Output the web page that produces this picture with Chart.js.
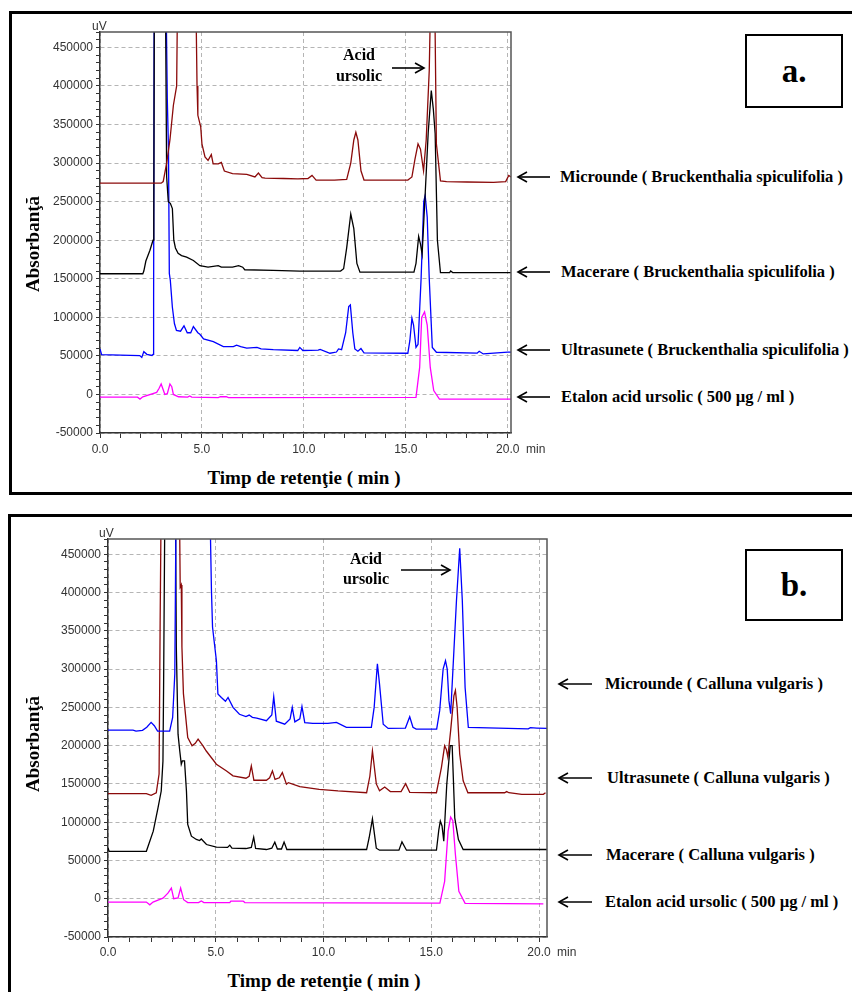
<!DOCTYPE html>
<html lang="ro">
<head>
<meta charset="UTF-8">
<title>Cromatograme HPLC - acid ursolic</title>
<script src="https://cdn.jsdelivr.net/npm/chart.js"></script>
<style>
  body {
    margin: 0;
    width: 852px;
    height: 992px;
    overflow: hidden;
    position: relative;
    background: #fff;
    font-family: 'Liberation Serif', 'Times New Roman', serif;
  }
  .panel { position: absolute; border: 3px solid #000; box-sizing: border-box; }
  #panelA { left: 9px; top: 11px; width: 850px; height: 484px; border-right: none; }
  #panelB { left: 8px; top: 514px; width: 850px; height: 490px; border-right: none; border-bottom: none; }
  canvas { position: absolute; }
  .t { position: absolute; font-weight: bold; color: #000; white-space: nowrap; line-height: 1; }
  .mid { transform: translate(-50%, -50%); }
  .lft { transform: translateY(-50%); }
  .ytitle { font-size: 19px; transform: translate(-50%, -50%) rotate(-90deg); }
  .xtitle { font-size: 19px; }
  .lab { font-size: 16.5px; }
  .note { font-size: 16px; text-align: center; }
  .tag {
    position: absolute; border: 2px solid #000; box-sizing: border-box;
    display: flex; align-items: center; justify-content: center;
    font-weight: bold; font-size: 33px; line-height: 1;
  }
  .unit { position: absolute; font-family: 'Liberation Sans', Arial, sans-serif; font-size: 12px; color: #333; line-height: 1; transform: translateY(-50%); }
  svg { position: absolute; left: 0; top: 0; pointer-events: none; }
</style>
</head>
<body>
  <div class="panel" id="panelA"></div>
  <div class="panel" id="panelB"></div>

  <canvas id="chartA" width="510" height="445" style="left:20px; top:20px;"></canvas>
  <canvas id="chartB" width="545" height="445" style="left:20px; top:520px;"></canvas>

  <!-- panel a -->
  <div class="unit" style="left:92px; top:26px;">uV</div>
  <div class="unit" style="left:526px; top:449px;">min</div>
  <div class="t ytitle" style="left:32px; top:244px;">Absorbanţă</div>
  <div class="t xtitle mid" style="left:304px; top:477px;">Timp de retenţie ( min )</div>
  <div class="t note mid" style="left:359px; top:55px;">Acid</div>
  <div class="t note mid" style="left:359px; top:76px;">ursolic</div>
  <div class="tag" style="left:745px; top:34px; width:98px; height:74px;">a.</div>
  <div class="t lab lft" style="left:560px; top:177px;">Microunde ( Bruckenthalia spiculifolia )</div>
  <div class="t lab lft" style="left:561px; top:272px;">Macerare ( Bruckenthalia spiculifolia )</div>
  <div class="t lab lft" style="left:561px; top:350px;">Ultrasunete ( Bruckenthalia spiculifolia )</div>
  <div class="t lab lft" style="left:561px; top:397px;">Etalon acid ursolic ( 500 µg / ml )</div>

  <!-- panel b -->
  <div class="unit" style="left:99px; top:533px;">uV</div>
  <div class="unit" style="left:557px; top:952px;">min</div>
  <div class="t ytitle" style="left:32px; top:744px;">Absorbanţă</div>
  <div class="t xtitle mid" style="left:324px; top:980px;">Timp de retenţie ( min )</div>
  <div class="t note mid" style="left:366px; top:559px;">Acid</div>
  <div class="t note mid" style="left:366px; top:579px;">ursolic</div>
  <div class="tag" style="left:745px; top:549px; width:98px; height:72px;">b.</div>
  <div class="t lab lft" style="left:605px; top:684px;">Microunde ( Calluna vulgaris )</div>
  <div class="t lab lft" style="left:607px; top:778px;">Ultrasunete ( Calluna vulgaris )</div>
  <div class="t lab lft" style="left:606px; top:855px;">Macerare ( Calluna vulgaris )</div>
  <div class="t lab lft" style="left:605px; top:902px;">Etalon acid ursolic ( 500 µg / ml )</div>

  <svg width="852" height="992" id="arrows"></svg>

<script>
// retention time (min), signal (uV) pairs

// a. Bruckenthalia spiculifolia
const aMicrounde = [[0,274000],[3.0,274000],[3.1,276000],[3.27,300000],[3.43,330000],[3.6,375000],[3.76,400000],[3.82,560000],[4.68,560000],[4.76,400000],[4.8,362000],[4.94,347000],[5.0,325000],[5.15,308000],[5.3,303600],[5.46,311000],[5.55,299000],[5.8,299000],[5.95,301000],[6.1,289700],[6.5,286300],[7.2,285500],[7.6,282000],[7.77,287000],[7.95,281000],[8.1,280600],[9.0,280000],[9.7,279500],[10.2,280000],[10.4,284000],[10.6,278000],[11.5,278000],[12.1,279000],[12.3,300000],[12.45,330000],[12.55,340000],[12.65,330000],[12.8,290000],[12.95,278000],[15.1,278000],[15.3,282000],[15.45,305000],[15.6,325000],[15.72,318000],[15.87,290000],[16.0,330000],[16.15,420000],[16.25,560000],[16.4,560000],[16.5,325000],[16.7,277000],[17.0,276000],[18.0,275500],[19.3,275000],[19.9,276000],[20.05,284000],[20.16,282000]];
const aMacerare = [[0,156500],[2.1,156500],[2.15,160000],[2.25,173000],[2.45,187000],[2.6,200000],[2.64,230000],[2.67,560000],[3.2,560000],[3.27,282000],[3.35,250000],[3.45,247800],[3.55,241000],[3.62,200000],[3.7,190000],[3.83,183000],[4.0,180000],[4.25,178000],[4.58,173700],[4.9,167000],[5.3,165000],[5.8,167000],[5.95,165000],[6.5,165000],[6.8,167000],[7.0,165000],[7.1,161700],[8.5,160800],[9.8,160000],[11.8,160000],[11.95,163000],[12.1,190000],[12.3,234000],[12.45,215000],[12.6,170000],[12.75,158500],[15.4,158500],[15.5,170000],[15.63,205000],[15.72,195000],[15.8,182000],[15.95,260000],[16.1,340000],[16.25,394000],[16.35,370000],[16.44,338000],[16.55,200000],[16.7,158000],[17.15,158000],[17.2,160000],[17.3,158000],[20.16,158000]];
const aUltrasunete = [[0,59000],[0.08,51500],[1.95,50400],[2.05,48000],[2.15,55500],[2.3,52000],[2.55,50500],[2.6,52000],[2.63,126000],[2.66,560000],[3.22,560000],[3.3,384000],[3.36,316000],[3.4,157000],[3.45,147800],[3.55,113000],[3.65,92000],[3.75,83000],[3.95,82000],[4.12,89000],[4.28,80000],[4.45,80000],[4.58,88000],[4.8,80000],[4.9,78000],[5.08,72000],[5.56,68500],[6.05,62000],[6.54,62000],[6.7,64000],[6.9,62000],[7.2,60000],[7.7,61000],[7.9,59000],[8.5,58000],[9.7,57000],[9.8,61000],[9.95,57000],[10.7,57500],[10.8,58500],[11.28,53400],[11.6,55000],[11.7,59000],[11.85,58000],[12.05,80000],[12.2,114000],[12.28,116000],[12.4,80000],[12.5,59000],[12.65,56000],[12.8,59500],[12.95,54000],[15.1,53400],[15.2,70000],[15.3,98800],[15.38,90000],[15.5,61000],[15.6,65000],[15.75,150000],[15.88,250000],[15.95,258000],[16.05,230000],[16.15,150000],[16.3,61000],[16.5,54700],[18.5,53500],[18.6,56000],[18.8,52500],[20.0,55000],[20.16,55000]];
const aEtalon = [[0,-3500],[1.84,-3500],[1.96,-6000],[2.1,-3000],[2.78,2700],[2.9,8000],[3.0,13600],[3.1,6000],[3.18,0],[3.3,1000],[3.43,13600],[3.52,10000],[3.6,0],[3.85,-3000],[4.3,-3500],[4.4,-2000],[4.5,-3500],[5.8,-4000],[5.9,-3000],[6.2,-3000],[6.3,-4000],[15.5,-3700],[15.68,35000],[15.78,100000],[15.92,107000],[16.05,90000],[16.2,35000],[16.37,5000],[16.65,-6000],[20.16,-6000]];

// b. Calluna vulgaris
const bMicrounde = [[0,220400],[1.16,220400],[1.3,219000],[1.6,220000],[1.8,224000],[2.0,230400],[2.15,226000],[2.3,219000],[2.86,219000],[3.0,237000],[3.1,294000],[3.17,560000],[4.7,560000],[4.75,480000],[4.8,403000],[4.85,355000],[5.03,311000],[5.1,267600],[5.26,263000],[5.45,258000],[5.57,263000],[5.8,250000],[6.1,241000],[6.4,238000],[6.55,240000],[6.7,237000],[6.9,236000],[7.35,232600],[7.6,240000],[7.69,264000],[7.81,232000],[8.2,228000],[8.45,235000],[8.55,250000],[8.67,231000],[8.9,235000],[9.0,251000],[9.13,230000],[9.5,229000],[10.2,229000],[10.6,230500],[11.06,224000],[12.22,224000],[12.35,250000],[12.5,307000],[12.6,280000],[12.77,228000],[13.0,222500],[13.8,223000],[14.0,237800],[14.15,224000],[14.3,221700],[15.25,221700],[15.39,245700],[15.55,300000],[15.66,311000],[15.74,300000],[15.82,258800],[15.9,241700],[16.05,324000],[16.17,390000],[16.32,458000],[16.44,390000],[16.57,276000],[16.72,223800],[19.5,222000],[19.6,223500],[19.9,223000],[20.37,222500]];
const bUltrasunete = [[0,137200],[1.78,137200],[2.0,135000],[2.24,138500],[2.37,163000],[2.42,363800],[2.48,560000],[3.3,560000],[3.35,407000],[3.4,410000],[3.43,328800],[3.5,268000],[3.7,210700],[3.9,199800],[4.05,203000],[4.18,208600],[4.4,200000],[4.56,193000],[5.03,175800],[5.5,167000],[5.8,160500],[6.4,157400],[6.55,160000],[6.65,173600],[6.77,154800],[7.35,154800],[7.5,158000],[7.63,167000],[7.75,156000],[7.95,158000],[8.09,164800],[8.28,149600],[8.37,151700],[8.9,146400],[9.8,143000],[10.67,140800],[12.0,138500],[12.15,160000],[12.27,193200],[12.45,150000],[12.6,141000],[12.84,146000],[13.1,140000],[13.6,140000],[13.81,150400],[14.0,139000],[15.24,138500],[15.47,171300],[15.62,199800],[15.7,195000],[15.77,185000],[15.9,220000],[16.05,265000],[16.12,272000],[16.2,250000],[16.32,189000],[16.48,154000],[16.7,138500],[18.4,138500],[18.5,140000],[18.6,138500],[19.2,136400],[20.2,136400],[20.3,138500]];
const bMacerare = [[0,66400],[0.05,62000],[1.78,62000],[2.1,88300],[2.32,118800],[2.47,140700],[2.55,180000],[2.58,278600],[2.65,560000],[3.12,560000],[3.17,328800],[3.25,215000],[3.33,193000],[3.4,175800],[3.45,180000],[3.55,180000],[3.64,140700],[3.7,97000],[3.87,81700],[4.1,77400],[4.25,76000],[4.33,78000],[4.57,70800],[5.03,67300],[5.55,67000],[5.65,70000],[5.75,66000],[6.4,65600],[6.65,67000],[6.76,80400],[6.85,65600],[7.35,64300],[7.6,66000],[7.74,73900],[7.86,65000],[8.05,65000],[8.17,74000],[8.3,64300],[9.0,64300],[12.0,64300],[12.12,80000],[12.27,104400],[12.45,66000],[12.6,63400],[13.5,63400],[13.64,74300],[13.85,63400],[15.24,63400],[15.35,90000],[15.42,101400],[15.5,95000],[15.58,75200],[15.72,150000],[15.88,200000],[15.97,200000],[16.09,105700],[16.26,77400],[16.48,64300],[20.37,64300]];
const bEtalon = [[0,-4400],[1.78,-4400],[1.94,-8000],[2.09,-4400],[2.55,800],[2.78,7300],[2.94,14000],[3.05,0],[3.25,1000],[3.37,14000],[3.51,-1300],[3.7,-5000],[4.2,-5000],[4.33,-2900],[4.45,-5000],[5.65,-5000],[5.7,-3000],[6.27,-3000],[6.35,-5000],[15.4,-5700],[15.62,22700],[15.78,88300],[15.9,106700],[16.0,102000],[16.12,57700],[16.28,9600],[16.57,-6000],[20.2,-6700]];

// axis ranges
const yMin = -50000;
const yMax = 470000;
const xMaxA = 20.16;
const xMaxB = 20.37;

const RED = '#8B0A0A', BLACK = '#000000', BLUE = '#0000FF', PINK = '#FF00FF';

// top and right edge of the plot box
const frame = {
  id: 'frame',
  afterDraw(chart) {
    const { ctx, chartArea: a } = chart;
    ctx.save();
    ctx.strokeStyle = '#555';
    ctx.lineWidth = 1.5;
    ctx.beginPath();
    ctx.moveTo(a.left, a.top);
    ctx.lineTo(a.right, a.top);
    ctx.lineTo(a.right, a.bottom);
    ctx.stroke();
    ctx.restore();
  }
};

function trace(pairs, color) {
  return {
    data: pairs.map(([x, y]) => ({ x, y })),
    borderColor: color,
    borderWidth: 1.3,
    pointRadius: 0,
    tension: 0,
    fill: false
  };
}

const tickFont = { family: "'Liberation Sans', Arial, sans-serif", size: 12 };
const majorGrid = (step) => (c) => (c.tick && Math.abs(c.tick.value % step) < 1e-6) ? '#b5b5b5' : 'rgba(0,0,0,0)';

function chromatogram(id, datasets, xMax, o) {
  return new Chart(document.getElementById(id), {
    type: 'line',
    data: { datasets },
    options: {
      responsive: false,
      animation: false,
      events: [],
      layout: { padding: { top: o.padTop, right: o.padRight, left: 0, bottom: 0 } },
      plugins: { legend: { display: false }, tooltip: { enabled: false } },
      scales: {
        x: {
          type: 'linear',
          min: 0,
          max: xMax,
          afterFit: (s) => { s.height = o.xHeight; },
          ticks: {
            stepSize: 1,
            includeBounds: false,
            autoSkip: false,
            maxRotation: 0,
            padding: o.xPad,
            font: tickFont,
            color: '#333',
            callback: (v) => (v % 5 === 0 ? v.toFixed(1) : '')
          },
          grid: { color: majorGrid(5), tickColor: '#333', tickLength: 5, lineWidth: 1 },
          border: { color: '#333', width: 1.5, dash: [4, 3] }
        },
        y: {
          type: 'linear',
          min: yMin,
          max: yMax,
          afterFit: (s) => { s.width = o.yWidth; },
          ticks: {
            stepSize: 10000,
            includeBounds: false,
            autoSkip: false,
            padding: 3,
            font: tickFont,
            color: '#333',
            callback: (v) => (v % 50000 === 0 ? String(v) : '')
          },
          grid: { color: majorGrid(50000), tickColor: '#333', tickLength: 4, lineWidth: 1 },
          border: { color: '#333', width: 1.5, dash: [4, 3] }
        }
      }
    },
    plugins: [frame]
  });
}

chromatogram('chartA', [
  trace(aMicrounde, RED),
  trace(aMacerare, BLACK),
  trace(aEtalon, PINK),
  trace(aUltrasunete, BLUE)
], xMaxA, { padTop: 12, padRight: 19, yWidth: 80, xHeight: 32, xPad: 4 });

chromatogram('chartB', [
  trace(bMicrounde, BLUE),
  trace(bMacerare, BLACK),
  trace(bEtalon, PINK),
  trace(bUltrasunete, RED)
], xMaxB, { padTop: 19, padRight: 18, yWidth: 88, xHeight: 28, xPad: 3 });

// arrows next to the trace names and the ursolic acid peak
const svg = document.getElementById('arrows');
const NS = 'http://www.w3.org/2000/svg';
function arrow(x1, x2, y, dir) {
  const tip = dir < 0 ? x1 : x2;
  const line = document.createElementNS(NS, 'line');
  line.setAttribute('x1', x1); line.setAttribute('x2', x2);
  line.setAttribute('y1', y); line.setAttribute('y2', y);
  line.setAttribute('stroke', '#000'); line.setAttribute('stroke-width', '1.6');
  svg.appendChild(line);
  const head = document.createElementNS(NS, 'polyline');
  const b = tip - dir * 9;
  head.setAttribute('points', `${b},${y - 5} ${tip},${y} ${b},${y + 5}`);
  head.setAttribute('fill', 'none');
  head.setAttribute('stroke', '#000');
  head.setAttribute('stroke-width', '1.6');
  svg.appendChild(head);
}
[177, 272, 350, 397].forEach((y) => arrow(518, 550, y, -1));
[684, 778, 855, 902].forEach((y) => arrow(559, 592, y, -1));
arrow(392, 424, 68, 1);
arrow(401, 450, 570, 1);
</script>
</body>
</html>
